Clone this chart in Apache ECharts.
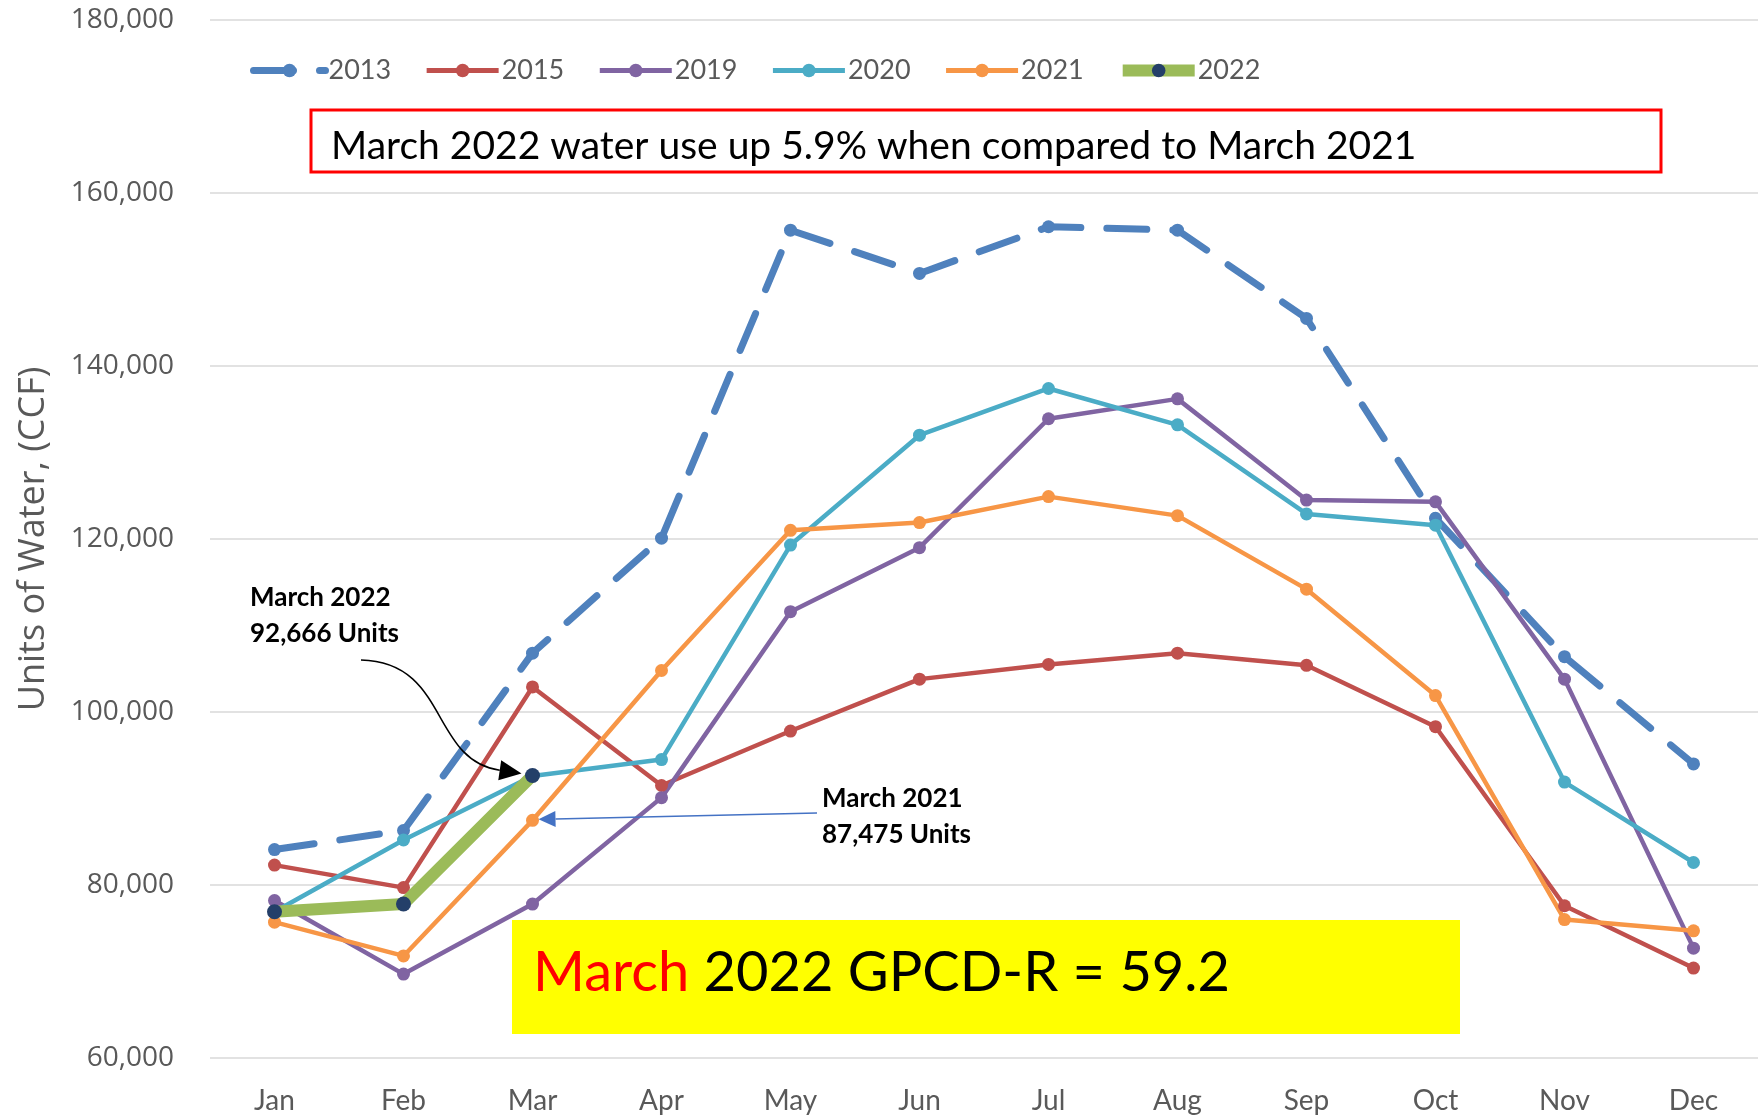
<!DOCTYPE html>
<html><head><meta charset="utf-8">
<script src="https://cdn.jsdelivr.net/npm/echarts@6/dist/echarts.min.js"></script>
<style>html,body{margin:0;padding:0;background:#fff}#c{width:1759px;height:1118px}</style>
</head><body><div id="c"></div>
<script>
const months = ['Jan','Feb','Mar','Apr','May','Jun','Jul','Aug','Sep','Oct','Nov','Dec'];
const y2013 = [84100, 86300, 106800, 120100, 155700, 150700, 156100, 155700, 145500, 122400, 106400, 94000];
const y2015 = [82300, 79700, 102900, 91500, 97800, 103800, 105500, 106800, 105400, 98300, 77600, 70400];
const y2019 = [78200, 69700, 77800, 90100, 111600, 119000, 133900, 136200, 124500, 124300, 103800, 72700];
const y2020 = [76900, 85200, 92600, 94500, 119300, 132000, 137400, 133200, 122900, 121600, 91900, 82600];
const y2021 = [75700, 71800, 87475, 104800, 121000, 121900, 124900, 122700, 114200, 101900, 76000, 74700];
const y2022 = [76900, 77800, 92666];
const yTicks = [60000, 80000, 100000, 120000, 140000, 160000, 180000];

const chart = echarts.init(document.getElementById('c'), null, {renderer:'canvas'});
const sans = 'Open Sans';
const cal = 'Lato';
function ser(name, data, color, width, extra) {
  return Object.assign({
    name, type:'line', data, symbol:'circle', symbolSize:13, showSymbol:true,
    itemStyle:{color}, lineStyle:{color, width}, z:2, animation:false
  }, extra||{});
}
chart.setOption({
  animation:false,
  grid:{left:210, right:1, top:20, bottom:60, containLabel:false},
  legend:{
    left:245, top:52, itemWidth:72, itemHeight:17, itemGap:33,
    textStyle:{fontFamily:cal, fontSize:27, color:'#595959', padding:[0,0,0,-2]},
    data:[
      {name:'2013', lineStyle:{width:7}},
      {name:'2015', lineStyle:{width:5}},
      {name:'2019', lineStyle:{width:5}},
      {name:'2020', lineStyle:{width:5}},
      {name:'2021', lineStyle:{width:5}},
      {name:'2022', lineStyle:{width:12}}
    ]
  },
  xAxis:{
    type:'category', data:months, boundaryGap:true,
    axisLine:{show:false}, axisTick:{show:false},
    axisLabel:{fontFamily:cal, fontSize:28, color:'#595959', margin:29}
  },
  yAxis:{
    type:'value', min:yTicks[0], max:yTicks[yTicks.length-1], interval:20000,
    name:'Units of Water, (CCF)', nameLocation:'middle', nameGap:158,
    nameTextStyle:{fontFamily:sans, fontSize:36, color:'#595959'},
    axisLine:{show:false}, axisTick:{show:false},
    splitLine:{lineStyle:{color:'#D9D9D9', width:1.5}},
    axisLabel:{fontFamily:sans, fontSize:28, color:'#595959', margin:36,
      formatter:v=>v.toLocaleString('en-US')}
  },
  series:[
    ser('2013', y2013, '#4F81BD', 7, {symbolSize:13, lineStyle:{color:'#4F81BD', width:7, type:[40,26], cap:'round'}}),
    ser('2015', y2015, '#C0504D', 4.5),
    ser('2019', y2019, '#8064A2', 4.5),
    ser('2020', y2020, '#4BACC6', 4.5),
    ser('2021', y2021, '#F79646', 4.5),
    ser('2022', y2022, '#9BBB59', 12, {symbolSize:15, itemStyle:{color:'#243F69'}, lineStyle:{color:'#9BBB59', width:12}, z:3})
  ]
});

const p22 = chart.convertToPixel({xAxisIndex:0, yAxisIndex:0}, ['Mar', y2022[2]]);
const p21 = chart.convertToPixel({xAxisIndex:0, yAxisIndex:0}, ['Mar', y2021[2]]);
const bTip = [p22[0]-11, p22[1]-2];
const bP0 = [361, 660], bP1 = [449, 662], bP2 = [430, 760];
let dx = bTip[0]-bP2[0], dy = bTip[1]-bP2[1]; let L = Math.hypot(dx,dy); dx/=L; dy/=L;
const ah = 22, aw = 10;
const bBase = [bTip[0]-dx*ah, bTip[1]-dy*ah];
const blackHead = [bTip, [bBase[0]-dy*aw, bBase[1]+dx*aw], [bBase[0]+dy*aw, bBase[1]-dx*aw]];
const blTip = [p21[0]+6, p21[1]-1];
const blStart = [817, 813];
let ex = blTip[0]-blStart[0], ey = blTip[1]-blStart[1]; L = Math.hypot(ex,ey); ex/=L; ey/=L;
const blBase = [blTip[0]-ex*17, blTip[1]-ey*17];
const blueHead = [blTip, [blBase[0]-ey*8, blBase[1]+ex*8], [blBase[0]+ey*8, blBase[1]-ex*8]];

chart.setOption({
  graphic:[
    {type:'rect', shape:{x:311, y:110, width:1350, height:62}, style:{fill:'#fff', stroke:'#FF0000', lineWidth:3}, z:10},
    {type:'text', left:331, top:127, style:{text:'March 2022 water use up 5.9% when compared to March 2021', fontFamily:cal, fontSize:39, fill:'#000'}, z:11},
    {type:'rect', shape:{x:512, y:920, width:948, height:114}, style:{fill:'#FFFF00'}, z:10},
    {type:'text', left:533, top:945, style:{
      text:'{r|March}{k| 2022 GPCD-R = 59.2}', rich:{r:{fill:'#FF0000', fontFamily:cal, fontSize:56}, k:{fill:'#000', fontFamily:cal, fontSize:56}}}, z:11},
    {type:'text', left:250, top:580, style:{text:'March 2022\n92,666 Units', fontFamily:cal, fontWeight:'bold', fontSize:26, lineHeight:36, fill:'#000'}, z:11},
    {type:'text', left:822, top:781, style:{text:'March 2021\n87,475 Units', fontFamily:cal, fontWeight:'bold', fontSize:26, lineHeight:36, fill:'#000'}, z:11},
    {type:'bezierCurve', shape:{x1:bP0[0], y1:bP0[1], cpx1:bP1[0], cpy1:bP1[1], cpx2:bP2[0], cpy2:bP2[1], x2:bBase[0], y2:bBase[1]}, style:{stroke:'#000', lineWidth:1.5, fill:null}, z:11},
    {type:'polygon', shape:{points:blackHead}, style:{fill:'#000'}, z:11},
    {type:'line', shape:{x1:blStart[0], y1:blStart[1], x2:blBase[0], y2:blBase[1]}, style:{stroke:'#4472C4', lineWidth:1.5}, z:11},
    {type:'polygon', shape:{points:blueHead}, style:{fill:'#4472C4'}, z:11}
  ]
});
</script></body></html>
